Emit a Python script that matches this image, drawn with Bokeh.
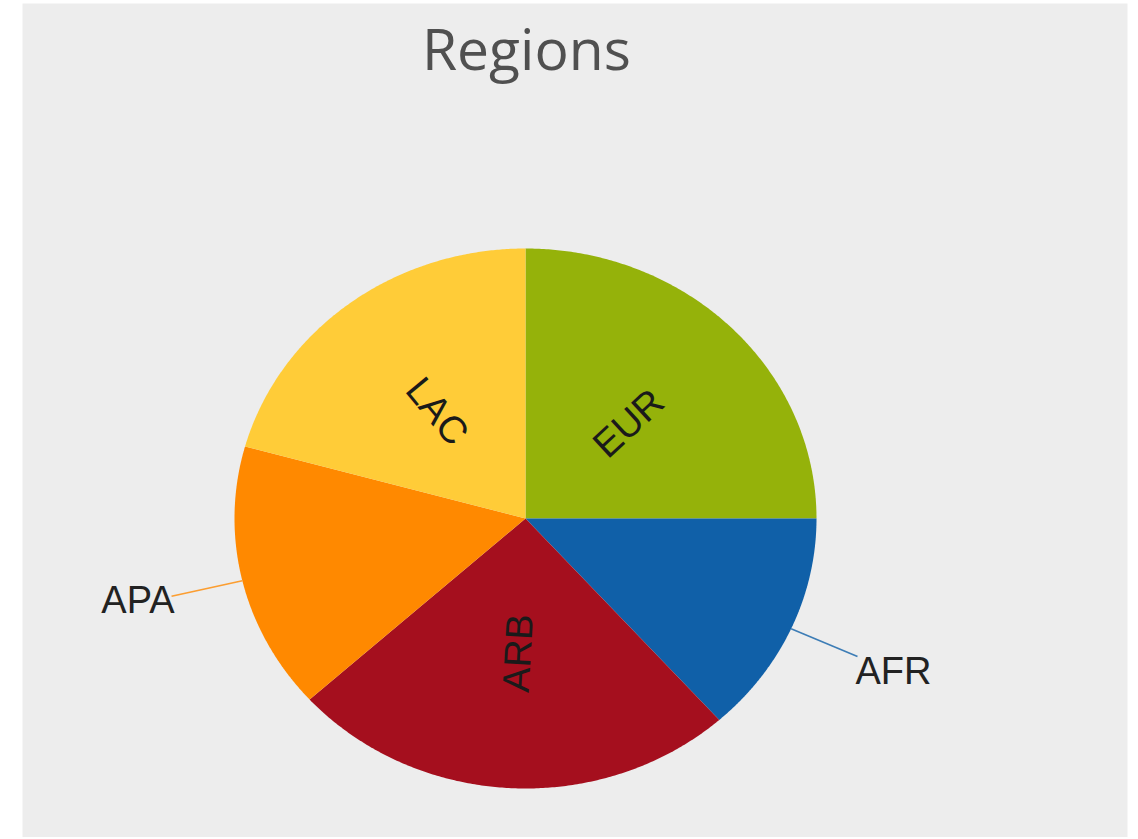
import numpy as np
from bokeh.plotting import figure
from bokeh.models import Range1d, Label
from bokeh.core.properties import value
from bokeh.embed import file_html
from bokeh.resources import INLINE

# ---- data ----
title_text = "Regions"
regions = ["EUR", "AFR", "ARB", "APA", "LAC"]
shares = [25.0, 13.4, 24.9, 16.0, 20.7]
colors = ["#95B20A", "#1060A8", "#A50F1E", "#FF8900", "#FFCC38"]
label_inside = [True, False, True, False, True]

# ---- layout (pixels) ----
W, H = 1130, 837
ML, MR, MT = 22, 3, 3
RX, RY = 291.0, 270.0          # pie radii in px (slightly elliptical, like the reference)
CX, CY = 503.0, 515.0          # pie centre, px from frame left / top
fw, fh = W - ML - MR, H - MT

x_range = Range1d(-CX / RX, (fw - CX) / RX)
y_range = Range1d(-(fh - CY) / RY, CY / RY)

p = figure(width=W, height=H, x_range=x_range, y_range=y_range,
           output_backend="svg", toolbar_location=None,
           min_border_left=ML, min_border_right=MR, min_border_top=MT, min_border_bottom=0)
p.axis.visible = False
p.grid.visible = False
p.outline_line_color = None
p.background_fill_color = "#EDEDED"
p.border_fill_color = "white"

# ---- slices ----
total = float(sum(shares))
start = np.pi / 2
xs, ys, mids = [], [], []
for s in shares:
    sweep = 2 * np.pi * s / total
    t = np.linspace(start, start - sweep, 200)
    xs.append(np.r_[0.0, np.cos(t)])
    ys.append(np.r_[0.0, np.sin(t)])
    mids.append(start - sweep / 2)
    start -= sweep

p.patches(xs, ys, fill_color=colors, line_color=None)

# ---- inside labels ----
in_x, in_y, in_t, in_a = [], [], [], []
for name, m, inside in zip(regions, mids, label_inside):
    if not inside:
        continue
    in_x.append(0.5 * np.cos(m))
    in_y.append(0.5 * np.sin(m))
    ang = np.arctan2(RY * np.sin(m), RX * np.cos(m))
    if ang > np.pi / 2:
        ang -= np.pi
    elif ang <= -np.pi / 2:
        ang += np.pi
    in_a.append(ang)
    in_t.append(name)

p.text(x=in_x, y=in_y, text=in_t, angle=in_a, text_align="center", text_baseline="middle",
       text_font=value("Liberation Sans"), text_font_size=value("38px"), text_color="#1a1a1a")

# ---- outside labels with connectors ----
for name, m, inside, c in zip(regions, mids, label_inside, colors):
    if inside:
        continue
    x0, y0 = np.cos(m), np.sin(m)
    x1, y1 = 1.25 * np.cos(m), 1.25 * np.sin(m)
    p.line([x0, x1], [y0, y1], line_color=c, line_width=1.6, line_alpha=0.8)
    if np.cos(m) >= 0:
        lx, ly, al = x1 - 2 / RX, y1 - 15 / RY, "left"
    else:
        lx, ly, al = x1 + 3 / RX, y1 - 4 / RY, "right"
    p.text(x=[lx], y=[ly], text=[name], text_align=al, text_baseline="middle",
           text_font=value("Liberation Sans"), text_font_size=value("38px"), text_color="#222222")

# ---- title ----
p.add_layout(Label(x=0.003, y=(CY - 44) / RY, text=title_text, text_align="center",
                   text_baseline="alphabetic", text_font="Open Sans", text_font_size="57px",
                   text_color="#505050"))

open("out.html", "w").write(file_html(p, INLINE))
